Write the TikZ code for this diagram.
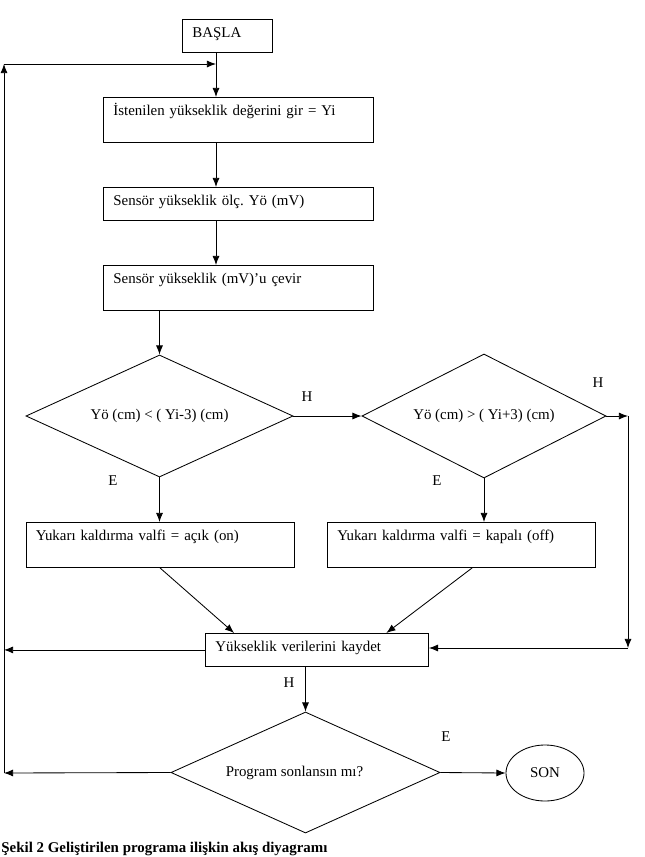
\documentclass[tikz,border=0pt]{standalone}
\usepackage{fontspec}
\setmainfont{Liberation Serif}
\frenchspacing
\usetikzlibrary{shapes.geometric,arrows.meta,calc}

\begin{document}
\begin{tikzpicture}[x=0.025cm, y=-0.025cm, ->, >={Latex[length=6.5pt,width=5pt]}, line width=0.6pt, font=\fontsize{10.6}{12.7}\selectfont]
    \tikzstyle{box}=[draw, rectangle, anchor=north west, inner xsep=0.25cm, inner ysep=0pt, align=left, text height=0.45cm]
    \tikzstyle{short box}=[box, text depth=0.375cm]
    \tikzstyle{tall box}=[box, text depth=0.675cm]
    \tikzstyle{decision}=[draw, diamond, aspect=2, inner sep=0pt]
    \tikzstyle{annot}=[inner sep=0pt]

    \useasboundingbox (0,0) rectangle (645,857);

    % Draw the process boxes
    \node[short box, text width=1.75cm] (start) at (182,19) {BAŞLA};
    \node[tall box, text width=6.25cm] (input) at (103,97) {İstenilen yükseklik değerini gir = Yi};
    \node[short box, text width=6.25cm] (measure) at (103,187) {Sensör yükseklik ölç. Yö (mV)};
    \node[tall box, text width=6.25cm] (convert) at (103,265) {Sensör yükseklik (mV)’u çevir};
    \node[tall box, text width=6.2cm] (open) at (25.5,522) {Yukarı kaldırma valfi = açık (on)};
    \node[tall box, text width=6.2cm] (close) at (327,522) {Yukarı kaldırma valfi = kapalı (off)};
    \node[short box, text width=5.075cm] (save) at (205,633) {Yükseklik verilerini kaydet};

    % Draw the decisions
    \node[decision, minimum width=6.675cm, minimum height=3.05cm] (d1) at (159.5,416) {Yö (cm) < ( Yi-3) (cm)};
    \node[decision, minimum width=6.1cm, minimum height=3.1cm] (d2) at (484,416) {Yö (cm) > ( Yi+3) (cm)};
    \node[decision, minimum width=6.725cm, minimum height=3.025cm] (d3) at (305.5,772.5) {};
    \node[annot] (ask) at (294.5,773) {Program sonlansın mı?};
    \node[draw, ellipse, minimum width=1.95cm, minimum height=1.4cm, inner sep=0pt] (stop) at (545,773) {SON};

    % Corners of the loops
    \coordinate (top) at (216,64);
    \coordinate (lt) at (4,64);
    \coordinate (lb) at (4,773);
    \coordinate (rt) at (628,416);
    \coordinate (rb) at (628,648);

    \path (start.south -| top) edge (input.north -| top);
    \path (input.south -| top) edge (measure.north -| top);
    \path (measure.south -| top) edge (convert.north -| top);
    \path (convert.south -| d1.north) edge (d1.north);
    \path (d1.east) edge (d2.west);
    \path (d1.south) edge (d1.south |- open.north);
    \path (d2.south) edge (d2.south |- close.north);
    \path (d2.east) edge (rt);
    \path (rt) edge (rb);
    \path (rb) edge (save.east |- rb);
    \path (open.south) edge ($(save.north west)!0.13!(save.north east)$);
    \path ($(close.south west)!0.54!(close.south east)$) edge ($(save.north west)!0.81!(save.north east)$);
    \path (save.west) edge (save.west -| lt);
    \path (save.south -| d3.north) edge (d3.north);
    \path (d3.east) edge (stop.west);
    \path (d3.west) edge (lb);
    \path (lb) edge (lt);
    \path (lt) edge (top);

    % Annotate the branches
    \node[annot] (h1) at (307,397) {H};
    \node[annot] (h2) at (598,383) {H};
    \node[annot] (e1) at (113,481) {E};
    \node[annot] (e2) at (437,481) {E};
    \node[annot] (h3) at (289,683) {H};
    \node[annot] (e3) at (446,737) {E};

    \node[anchor=base west, inner sep=0pt, font=\fontsize{10.6}{12.7}\selectfont\bfseries] (caption) at (1,852) {Şekil 2 Geliştirilen programa ilişkin akış diyagramı};
\end{tikzpicture}
\end{document}
